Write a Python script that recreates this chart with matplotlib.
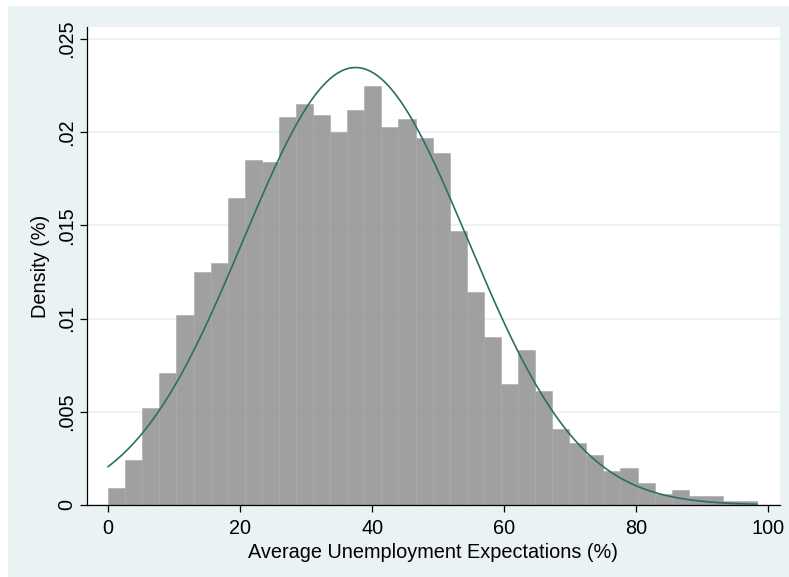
import numpy as np
import matplotlib.pyplot as plt
from matplotlib.patches import Rectangle

# histogram densities, 38 equal-width bins starting at 0
density = [0.0009, 0.0024, 0.0052, 0.0071, 0.0102, 0.0125, 0.0130, 0.01645,
           0.0185, 0.0184, 0.0208, 0.0215, 0.0209, 0.0200, 0.0212, 0.0225,
           0.0203, 0.0207, 0.0197, 0.0189, 0.0147, 0.0114, 0.0090, 0.0065,
           0.0083, 0.0061, 0.0041, 0.0033, 0.0027, 0.0018, 0.0020, 0.0012,
           0.0006, 0.0008, 0.0005, 0.0005, 0.0002, 0.0002]
bin_start = 0.0
bin_width = 2.5877

# normal overlay parameters
mu = 37.5
sigma = 17.0

xticks = [0, 20, 40, 60, 80, 100]
yticks = [0, 0.005, 0.01, 0.015, 0.02, 0.025]
ytick_labels = ['0', '.005', '.01', '.015', '.02', '.025']

BG = '#eaf2f3'
BAR = '#a0a0a0'
LINE = '#2b6f67'


def main():
    fig = plt.figure(figsize=(7.89, 5.77), dpi=100)
    fig.patch.set_facecolor('white')
    # stata-like outer region
    fig.patches.append(Rectangle((8 / 789, 0), 1 - 8 / 789, 1 - 6 / 577,
                                 transform=fig.transFigure, facecolor=BG,
                                 edgecolor='none', zorder=-10))
    ax = fig.add_axes([87 / 789, 1 - 505 / 577, (780 - 87) / 789, (505 - 27) / 577])
    ax.set_facecolor('white')

    lefts = bin_start + bin_width * np.arange(len(density))
    ax.bar(lefts, density, width=bin_width, align='edge', color=BAR,
           edgecolor='#a6a6a6', linewidth=0.4, zorder=2)

    hi = lefts[-1] + bin_width
    xs = np.linspace(bin_start, hi, 400)
    ys = np.exp(-0.5 * ((xs - mu) / sigma) ** 2) / (sigma * np.sqrt(2 * np.pi))
    ax.plot(xs, ys, color=LINE, linewidth=1.2, zorder=3)

    ax.set_xlim(-3.2, 101.8)
    ax.set_ylim(0, 0.02564)
    ax.set_xticks(xticks)
    ax.set_yticks(yticks)
    ax.set_yticklabels(ytick_labels, rotation=90, va='center')
    ax.grid(axis='y', color=BG, linewidth=1.3, zorder=0)
    ax.set_axisbelow(True)

    for s in ['top', 'right']:
        ax.spines[s].set_visible(False)
    ax.spines['left'].set_linewidth(0.9)
    ax.spines['bottom'].set_linewidth(0.9)
    ax.tick_params(direction='out', length=5, width=0.9, labelsize=14.3)
    ax.tick_params(axis='x', pad=5)
    ax.tick_params(axis='y', pad=3)

    ax.set_xlabel('Average Unemployment Expectations (%)', fontsize=14.3, labelpad=4)
    ax.set_ylabel('Density (%)', fontsize=14.3, labelpad=5)

    fig.savefig('out.png', dpi=100, facecolor=fig.get_facecolor())


if __name__ == '__main__':
    plt.rcParams['font.family'] = ['Liberation Sans', 'DejaVu Sans']
    main()
